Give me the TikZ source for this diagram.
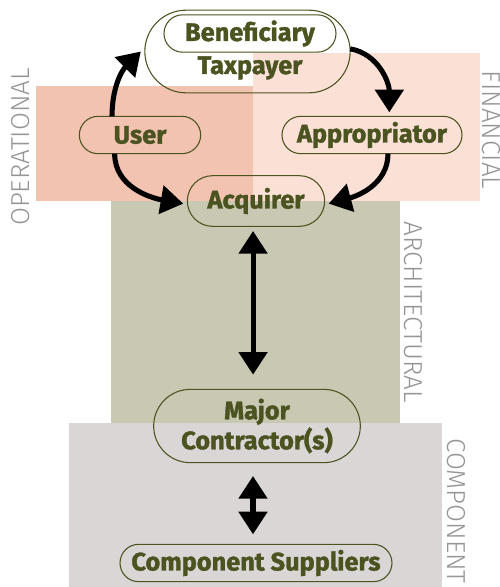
\documentclass[tikz,border=0pt]{standalone}
\usepackage{fontspec}
\setmainfont{Fira Sans}
\newfontfamily\partyfont{Fira Sans}[BoldFeatures={FakeBold=1.5}]
\newfontfamily\zonefont{Fira Sans Light}
\usetikzlibrary{shapes.misc,arrows.meta}
\definecolor{olivetext}{HTML}{4B5320}
\definecolor{zonegray}{HTML}{959595}
\definecolor{opfill}{HTML}{F2C3B0}
\definecolor{finfill}{HTML}{FAE0D5}
\definecolor{archfill}{HTML}{C9C8B2}
\definecolor{compfill}{HTML}{DAD6D6}
\begin{document}
\begin{tikzpicture}[x=0.75pt,y=-0.75pt,inner sep=0pt,outer sep=0pt,
party/.style={draw=olivetext,rounded rectangle,line width=0.8pt,minimum height=28pt,
  text=olivetext,align=center,font=\partyfont\bfseries\fontsize{19}{22.5}\selectfont},
partytext/.style={text=olivetext,font=\partyfont\bfseries\fontsize{19}{22.5}\selectfont},
zone/.style={text=zonegray,font=\zonefont\fontsize{19.5}{21}\selectfont},
flow/.style={line width=3.8pt,-{Triangle[length=17pt,width=21pt]}},
flowboth/.style={line width=3.8pt,{Triangle[length=17pt,width=21pt]}-{Triangle[length=17pt,width=21pt]}}]
\useasboundingbox (0,0) rectangle (500,587);

% background zones
\fill[opfill] (36,86) rectangle (253,201);
\fill[finfill] (253,53) rectangle (480,201);
\fill[archfill] (111,201) rectangle (400,423);
\fill[compfill] (69,423) rectangle (442,587);

\draw (21,147) node[zone,rotate=90] (oplabel) {OPERATIONAL};
\draw (491,130) node[zone,rotate=-90] (finlabel) {FINANCIAL};
\draw (413,312) node[zone,rotate=-90] (archlabel) {ARCHITECTURAL};
\draw (456,511) node[zone,rotate=-90] (complabel) {COMPONENT};

% parties
\draw (247.5,51.5) node[party,minimum width=154pt,minimum height=62pt] (benef) {};
\draw (250,33.5) node[party,minimum width=129pt] (benefin) {Beneficiary};
\draw (250,68) node[partytext] (taxpayer) {Taxpayer};
\draw (140,135) node[party,minimum width=91pt] (user) {User};
\draw (372,135) node[party,minimum width=135pt] (approp) {Appropriator};
\draw (256,201) node[party,minimum width=103pt,minimum height=38pt] (acq) {Acquirer};
\draw (257,426) node[party,minimum width=155pt,minimum height=55pt] (major) {Major\\Contractor(s)};
\draw (256,563) node[party,minimum width=204pt] (supp) {Component Suppliers};

% flows
\draw[flow] ([xshift=-21pt]user.north) to[out=90,in=225] ([xshift=-3pt]benef.west);
\draw[flow] ([yshift=2pt]benef.east) to[out=-10,in=90] ([xshift=13pt,yshift=3pt]approp.north);
\draw[flow] ([xshift=-19pt]user.south) to[out=-90,in=170] ([xshift=-3pt,yshift=-2pt]acq.west);
\draw[flow] ([xshift=12pt]approp.south) to[out=-90,in=15] ([xshift=3pt,yshift=-2pt]acq.east);
\draw[flowboth,shorten <=3.5pt,shorten >=11pt] ([xshift=-2.2pt]acq.south) -- ([xshift=-2.2pt]acq.south |- major.north);
\draw[flowboth,shorten <=10pt,shorten >=7.5pt] ([xshift=-3pt]major.south) -- ([xshift=-3pt]major.south |- supp.north);
\end{tikzpicture}
\end{document}
